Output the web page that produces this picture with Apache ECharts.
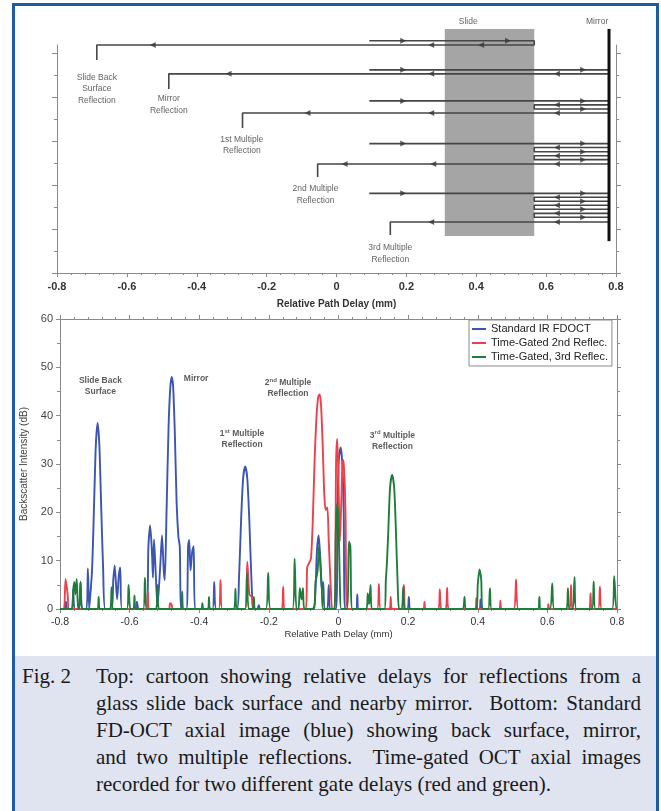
<!DOCTYPE html>
<html>
<head>
<meta charset="utf-8">
<script src="https://cdn.jsdelivr.net/npm/echarts@6/dist/echarts.min.js"></script>
<style>
html, body { margin: 0; padding: 0; background: #fff; }
#wrap { position: relative; width: 661px; height: 811px; overflow: hidden; background: #fff; }
#main { position: absolute; left: 0; top: 0; width: 661px; height: 656px; }
#cap { position: absolute; left: 15px; top: 656px; width: 641px; height: 155px; background: #e0e4f1;
       font-family: "Liberation Serif", "Times New Roman", serif; font-size: 21px; line-height: 27px; color: #1a1a1a; }
#cap .fig { position: absolute; left: 7px; top: 7px; }
#cap .txt { position: absolute; left: 81px; top: 7px; width: 545px; }
#cap .j { text-align: justify; text-align-last: justify; }
#frame { position: absolute; left: 12px; top: 3px; width: 641px; height: 830px; border: 3px solid #1d5ba6; border-bottom: none; pointer-events: none; }
</style>
</head>
<body>
<div id="wrap">
  <div id="main"></div>
  <div id="cap">
    <div class="fig">Fig. 2</div>
    <div class="txt">
      <div class="j">Top: cartoon showing relative delays for reflections from a</div>
      <div class="j">glass slide back surface and nearby mirror.&nbsp; Bottom: Standard</div>
      <div class="j">FD-OCT axial image (blue) showing back surface, mirror,</div>
      <div class="j">and two multiple reflections.&nbsp; Time-gated OCT axial images</div>
      <div>recorded for two different gate delays (red and green).</div>
    </div>
  </div>
  <div id="frame"></div>
</div>
<script>
var FONT = 'Liberation Sans, Arial, sans-serif';
var AX = '#8a8a8a';

// ---- top cartoon (x in mm, y in row units) ----
var slideBox = [0.31, 0.566, 1.68, 11.09];      // x0, x1, y0, y1
var mirrorLine = [[0.78, 1.45], [0.78, 11.09]];
var startX = 0.094, slideBack = 0.566, mirrorX = 0.78;
var pathRows = [
    [10.55, 10.36],
    [9.23, 9.05],
    [7.82, 7.64, 7.45, 7.27],
    [5.88, 5.70, 5.51, 5.33, 5.15, 4.95],
    [3.62, 3.44, 3.26, 3.08, 2.90, 2.71, 2.53, 2.32]
];
var exitX = [-0.686, -0.48, -0.269, -0.054, 0.154];
var dropY = [9.68, 8.36, 6.59, 4.36, 1.73];
var fwdArrowX = [[0.191, 0.491], [0.191, 0.706], [0.191, 0.706], [0.191, 0.706], [0.191, 0.706]];
var loopArrowX = [0.631, 0.706];
var retArrowX = [[0.414, 0.271, -0.526], [0.631, 0.271, -0.309], [0.631, 0.271, -0.083], [0.631, 0.277, 0.023], [0.631, 0.271]];
var cartoonLabels = [
    ['Slide Back\nSurface\nReflection', -0.686, 8.36],
    ['Mirror\nReflection', -0.48, 7.66],
    ['1st Multiple\nReflection', -0.271, 5.80],
    ['2nd Multiple\nReflection', -0.06, 3.57],
    ['3rd Multiple\nReflection', 0.154, 0.89],
    ['Slide', 0.377, 11.41],
    ['Mirror', 0.746, 11.41]
];

// ---- bottom plot: [delay mm, dB] ----
var blueTrace = [
    [-0.8,0],[-0.787,0],[-0.783,1.5],[-0.779,0],[-0.766,0],[-0.762,4],[-0.758,0],
    [-0.746,0],[-0.741,5.6],[-0.736,0],[-0.724,0],[-0.720,8.4],[-0.716,0],
    [-0.714,0],[-0.708,8],[-0.702,22],[-0.697,34],[-0.692,38.5],[-0.687,34],[-0.682,22],[-0.676,8],[-0.670,0],
    [-0.652,0],[-0.647,6],[-0.643,9],[-0.636,2],[-0.631,7],[-0.627,8.6],[-0.622,0],
    [-0.584,0],[-0.579,1.5],[-0.574,0],
    [-0.552,0],[-0.546,13],[-0.541,17.3],[-0.536,12],[-0.533,6.5],[-0.530,14.4],[-0.526,9],[-0.520,0.5],
    [-0.512,9],[-0.507,15.2],[-0.502,8],[-0.499,6],[-0.494,20],[-0.488,38],[-0.483,46],[-0.479,48],[-0.475,46],
    [-0.470,36],[-0.465,22],[-0.460,15],[-0.456,13],[-0.451,0],
    [-0.437,0],[-0.432,13],[-0.429,14.3],[-0.425,8],[-0.420,12],[-0.416,13],[-0.412,0],
    [-0.362,0],[-0.357,5.6],[-0.351,0],
    [-0.292,0],[-0.286,6],[-0.280,18],[-0.274,27],[-0.268,29.5],[-0.262,27],[-0.256,18],[-0.250,6],[-0.244,0],
    [-0.233,0],[-0.229,0.8],[-0.225,0],
    [-0.075,0],[-0.067,3],[-0.062,12],[-0.057,15.2],[-0.052,10],[-0.048,4],[-0.044,5.6],[-0.040,0],
    [-0.032,0],[-0.028,5],[-0.024,0],
    [-0.007,0],[-0.003,20],[0.001,31],[0.006,33.4],[0.011,30],[0.015,20],[0.019,0],
    [0.050,0],[0.054,3],[0.058,0],[0.198,0],[0.202,2.5],[0.207,0],[0.404,0],[0.408,2],[0.412,0],
    [0.8,0]
];
var redTrace = [
    [-0.8,0],[-0.789,0],[-0.784,6.2],[-0.778,3],[-0.774,0],
    [-0.553,0],[-0.548,3.6],[-0.543,0],[-0.487,0],[-0.484,1.2],[-0.479,0.8],[-0.476,0],
    [-0.344,0],[-0.339,6],[-0.334,0],
    [-0.268,0],[-0.262,9.8],[-0.256,3],[-0.249,2.5],[-0.244,0],
    [-0.163,0],[-0.159,4.6],[-0.155,0],
    [-0.094,0],[-0.090,8.6],[-0.084,9.6],[-0.079,10.5],[-0.074,18],[-0.069,30],[-0.063,40],[-0.058,44],[-0.054,44.4],
    [-0.050,42],[-0.045,33],[-0.041,24],[-0.037,20.5],[-0.032,21],[-0.028,14],[-0.022,4],[-0.018,0],
    [-0.011,0],[-0.007,30],[-0.004,35.2],[-0.001,30],[0.004,14],[0.008,22],[0.012,30.5],[0.015,30.8],[0.020,20],[0.026,0],
    [0.111,0],[0.116,5.2],[0.121,0],[0.147,0],[0.150,2.5],[0.153,0],[0.183,0],[0.188,5],[0.193,0],
    [0.244,0],[0.247,1.5],[0.250,0],[0.287,0],[0.291,4.1],[0.295,0],[0.308,0],[0.312,4.4],[0.316,0],
    [0.393,0],[0.396,2.3],[0.399,0],[0.462,0],[0.465,1.7],[0.468,0],[0.503,0],[0.510,6.1],[0.517,0],
    [0.600,0],[0.603,1],[0.606,0],[0.664,0],[0.668,5],[0.672,0],[0.720,0],[0.724,3.2],[0.728,0],
    [0.746,0],[0.751,4.6],[0.756,0],[0.8,0]
];
var greenTrace = [
    [-0.8,0],[-0.766,0],[-0.762,4],[-0.759,5.6],[-0.756,3],[-0.752,6.2],[-0.748,0],
    [-0.745,0],[-0.741,5.6],[-0.737,0],[-0.692,0],[-0.689,2.5],[-0.686,0],
    [-0.656,0],[-0.652,4.5],[-0.648,0],[-0.608,0],[-0.603,5],[-0.598,0],[-0.589,0],[-0.586,2.8],[-0.583,0],
    [-0.561,0],[-0.556,6.5],[-0.551,0],[-0.524,0],[-0.520,5],[-0.516,0],
    [-0.452,0],[-0.449,3.6],[-0.446,0],[-0.394,0],[-0.391,1.2],[-0.388,0],[-0.375,0],[-0.372,2.5],[-0.369,0],
    [-0.300,0],[-0.296,4.2],[-0.292,0],[-0.268,0],[-0.263,7.4],[-0.258,0],[-0.246,0],[-0.243,2.5],[-0.240,0],
    [-0.209,0],[-0.202,7.5],[-0.195,0],[-0.132,0],[-0.126,10.4],[-0.121,0],
    [-0.115,0],[-0.111,4.3],[-0.106,2],[-0.102,4.3],[-0.098,0],
    [-0.070,0],[-0.066,5.5],[-0.060,8],[-0.056,13],[-0.052,9],[-0.048,4.5],[-0.044,0],
    [-0.012,0],[-0.008,15],[-0.004,21.8],[0.000,18],[0.004,5],[0.008,0],
    [0.024,0],[0.030,14],[0.034,13],[0.040,0],
    [0.080,0],[0.084,3.2],[0.088,1],[0.092,5],[0.096,0],
    [0.132,0],[0.136,6],[0.139,9.4],[0.143,16],[0.148,25],[0.154,27.8],[0.160,25],[0.165,16],[0.170,5],[0.174,0],
    [0.182,0],[0.186,4.6],[0.190,0],[0.356,0],[0.362,2.5],[0.366,0],
    [0.396,0],[0.400,5],[0.405,8.2],[0.410,6],[0.414,0],[0.430,0],[0.435,4.3],[0.440,0],
    [0.573,0],[0.577,2.5],[0.581,0],[0.607,0],[0.614,5.3],[0.620,0],[0.655,0],[0.659,4.3],[0.663,0],
    [0.673,0],[0.678,6.6],[0.683,0],[0.728,0],[0.733,5.7],[0.738,0],[0.786,0],[0.792,6.8],[0.798,0],[0.8,0]
];
var seriesNames = ['Standard IR FDOCT', 'Time-Gated 2nd Reflec.', 'Time-Gated, 3rd Reflec.'];
var seriesColors = ['#3b55b0', '#ee3f4c', '#1f7d3b'];
var peakLabels = [
    ['{a|Slide Back}\n{a|Surface}', -0.684, 46.1],
    ['{a|Mirror}', -0.409, 47.6],
    ['{a|2}{s|nd}{a| Multiple}\n{a|Reflection}', -0.145, 45.6],
    ['{a|1}{s|st}{a| Multiple}\n{a|Reflection}', -0.277, 35.2],
    ['{a|3}{s|rd}{a| Multiple}\n{a|Reflection}', 0.155, 34.8]
];

function buildPath(k) {
    var rows = pathRows[k], last = rows.length - 1;
    var turn = k === 0 ? slideBack : mirrorX;
    var pts = [[startX, rows[0]], [turn, rows[0]]];
    for (var i = 1; i < last; i++) {
        if (i % 2) pts.push([mirrorX, rows[i]], [slideBack, rows[i]]);
        else pts.push([slideBack, rows[i]], [mirrorX, rows[i]]);
    }
    pts.push([turn, rows[last]], [exitX[k], rows[last]], [exitX[k], dropY[k]]);
    return pts;
}

var arrows = [];
pathRows.forEach(function (rows, k) {
    var last = rows.length - 1;
    fwdArrowX[k].forEach(function (x) { arrows.push({ value: [x, rows[0]], symbolRotate: -90 }); });
    for (var i = 1; i < last; i++) {
        arrows.push({ value: [i % 2 ? loopArrowX[0] : loopArrowX[1], rows[i]], symbolRotate: i % 2 ? 90 : -90 });
    }
    retArrowX[k].forEach(function (x) { arrows.push({ value: [x, rows[last]], symbolRotate: 90 }); });
});

function fmtX(v) { return String(Math.round(v * 10) / 10); }

var series = [
    {
        type: 'custom', xAxisIndex: 0, yAxisIndex: 0, clip: false, z: 1,
        encode: { x: [0, 1], y: [2, 3] },
        data: [slideBox],
        renderItem: function (params, api) {
            var p0 = api.coord([api.value(0), api.value(3)]);
            var p1 = api.coord([api.value(1), api.value(2)]);
            return { type: 'rect', shape: { x: p0[0], y: p0[1], width: p1[0] - p0[0], height: p1[1] - p0[1] },
                     style: { fill: '#a5a5a5' } };
        }
    },
    {
        type: 'line', xAxisIndex: 0, yAxisIndex: 0, clip: false, z: 3, symbol: 'none',
        data: mirrorLine, lineStyle: { color: '#111', width: 3 }
    }
];
pathRows.forEach(function (r, k) {
    series.push({
        type: 'line', xAxisIndex: 0, yAxisIndex: 0, clip: false, z: 2, symbol: 'none',
        data: buildPath(k), lineStyle: { color: '#464646', width: 1.6 }
    });
});
series.push({
    type: 'scatter', xAxisIndex: 0, yAxisIndex: 0, clip: false, z: 4,
    symbol: 'triangle', symbolSize: [6, 6], itemStyle: { color: '#3a3a3a' }, data: arrows
});
series.push({
    type: 'scatter', xAxisIndex: 0, yAxisIndex: 0, clip: false, symbolSize: 0,
    data: cartoonLabels.map(function (d) { return { name: d[0], value: [d[1], d[2]] }; }),
    label: { show: true, position: 'inside', formatter: '{b}', fontFamily: FONT, fontSize: 8.5,
             lineHeight: 11.5, color: '#383838', align: 'center' }
});
[blueTrace, redTrace, greenTrace].forEach(function (tr, i) {
    series.push({
        name: seriesNames[i], type: 'line', xAxisIndex: 1, yAxisIndex: 2, symbol: 'none',
        smooth: 0.25, data: tr, color: seriesColors[i],
        lineStyle: { color: seriesColors[i], width: 1.9 }
    });
});
series.push({
    type: 'scatter', xAxisIndex: 1, yAxisIndex: 2, symbolSize: 0,
    data: peakLabels.map(function (d) { return { name: d[0], value: [d[1], d[2]] }; }),
    label: { show: true, position: 'inside', formatter: '{b}', align: 'center',
             rich: { a: { fontFamily: FONT, fontSize: 8.5, fontWeight: 'bold', color: '#333', lineHeight: 11 },
                     s: { fontFamily: FONT, fontSize: 6, fontWeight: 'bold', color: '#333', verticalAlign: 'top', lineHeight: 11 } } }
});

var axLine = { show: true, onZero: false, lineStyle: { color: AX, width: 1 } };
var tickStyle = { color: AX, width: 1 };

var ec = echarts.init(document.getElementById('main'));
ec.setOption({
    animation: false,
    backgroundColor: 'transparent',
    textStyle: { fontFamily: FONT },
    grid: [
        { left: 57, top: 45, width: 559, height: 228 },
        { left: 60, top: 319, width: 557, height: 290 }
    ],
    legend: {
        data: seriesNames, orient: 'vertical', left: 469, top: 320,
        backgroundColor: '#fff', borderColor: AX, borderWidth: 1, borderRadius: 0,
        padding: [3, 4, 3, 3], itemGap: 2, itemWidth: 14, itemHeight: 2, icon: 'rect',
        textStyle: { fontFamily: FONT, fontSize: 11, color: '#222', lineHeight: 12 }
    },
    xAxis: [
        { gridIndex: 0, type: 'value', min: -0.8, max: 0.8, interval: 0.2, position: 'bottom',
          axisLine: axLine, axisTick: { length: 4, lineStyle: tickStyle },
          minorTick: { show: true, splitNumber: 5, length: 2, lineStyle: tickStyle },
          splitLine: { show: false }, minorSplitLine: { show: false },
          axisLabel: { formatter: fmtX, fontSize: 11, fontWeight: 'bold', color: '#333', margin: 8 },
          name: 'Relative Path Delay (mm)', nameLocation: 'middle', nameGap: 26,
          nameTextStyle: { fontSize: 10, fontWeight: 'bold', color: '#333' } },
        { gridIndex: 1, type: 'value', min: -0.8, max: 0.8, interval: 0.2, position: 'bottom',
          axisLine: axLine, axisTick: { length: 4, lineStyle: tickStyle },
          minorTick: { show: true, splitNumber: 5, length: 2, lineStyle: tickStyle },
          splitLine: { show: false },
          axisLabel: { formatter: fmtX, fontSize: 10.5, color: '#333', margin: 8 },
          name: 'Relative Path Delay (mm)', nameLocation: 'middle', nameGap: 19,
          nameTextStyle: { fontSize: 9.5, color: '#333' } },
        { gridIndex: 1, type: 'value', min: -0.8, max: 0.8, interval: 0.2, position: 'top',
          axisLine: axLine, axisTick: { length: 4, lineStyle: tickStyle },
          minorTick: { show: true, splitNumber: 5, length: 2, lineStyle: tickStyle },
          splitLine: { show: false }, axisLabel: { show: false } }
    ],
    yAxis: [
        { gridIndex: 0, type: 'value', min: 0, max: 10.36, interval: 2, position: 'left',
          axisLine: axLine, axisTick: { length: 5, lineStyle: tickStyle, customValues: [0, 2, 4, 6, 8, 10] },
          minorTick: { show: true, splitNumber: 2, length: 3, lineStyle: tickStyle },
          splitLine: { show: false }, axisLabel: { show: false } },
        { gridIndex: 0, type: 'value', min: 0, max: 10.36, interval: 2, position: 'right',
          axisLine: axLine, axisTick: { length: 5, lineStyle: tickStyle, customValues: [0, 2, 4, 6, 8, 10] },
          minorTick: { show: true, splitNumber: 2, length: 3, lineStyle: tickStyle },
          splitLine: { show: false }, axisLabel: { show: false } },
        { gridIndex: 1, type: 'value', min: 0, max: 60, interval: 10, position: 'left',
          axisLine: axLine, axisTick: { length: 4, lineStyle: tickStyle },
          minorTick: { show: true, splitNumber: 2, length: 3, lineStyle: tickStyle },
          splitLine: { show: false },
          axisLabel: { fontSize: 11, color: '#444', margin: 7 },
          name: 'Backscatter Intensity (dB)', nameLocation: 'middle', nameGap: 31,
          nameTextStyle: { fontSize: 10, color: '#444' } },
        { gridIndex: 1, type: 'value', min: 0, max: 60, interval: 10, position: 'right',
          axisLine: axLine, axisTick: { length: 4, lineStyle: tickStyle },
          minorTick: { show: true, splitNumber: 2, length: 3, lineStyle: tickStyle },
          splitLine: { show: false }, axisLabel: { show: false } }
    ],
    series: series
});
</script>
</body>
</html>
